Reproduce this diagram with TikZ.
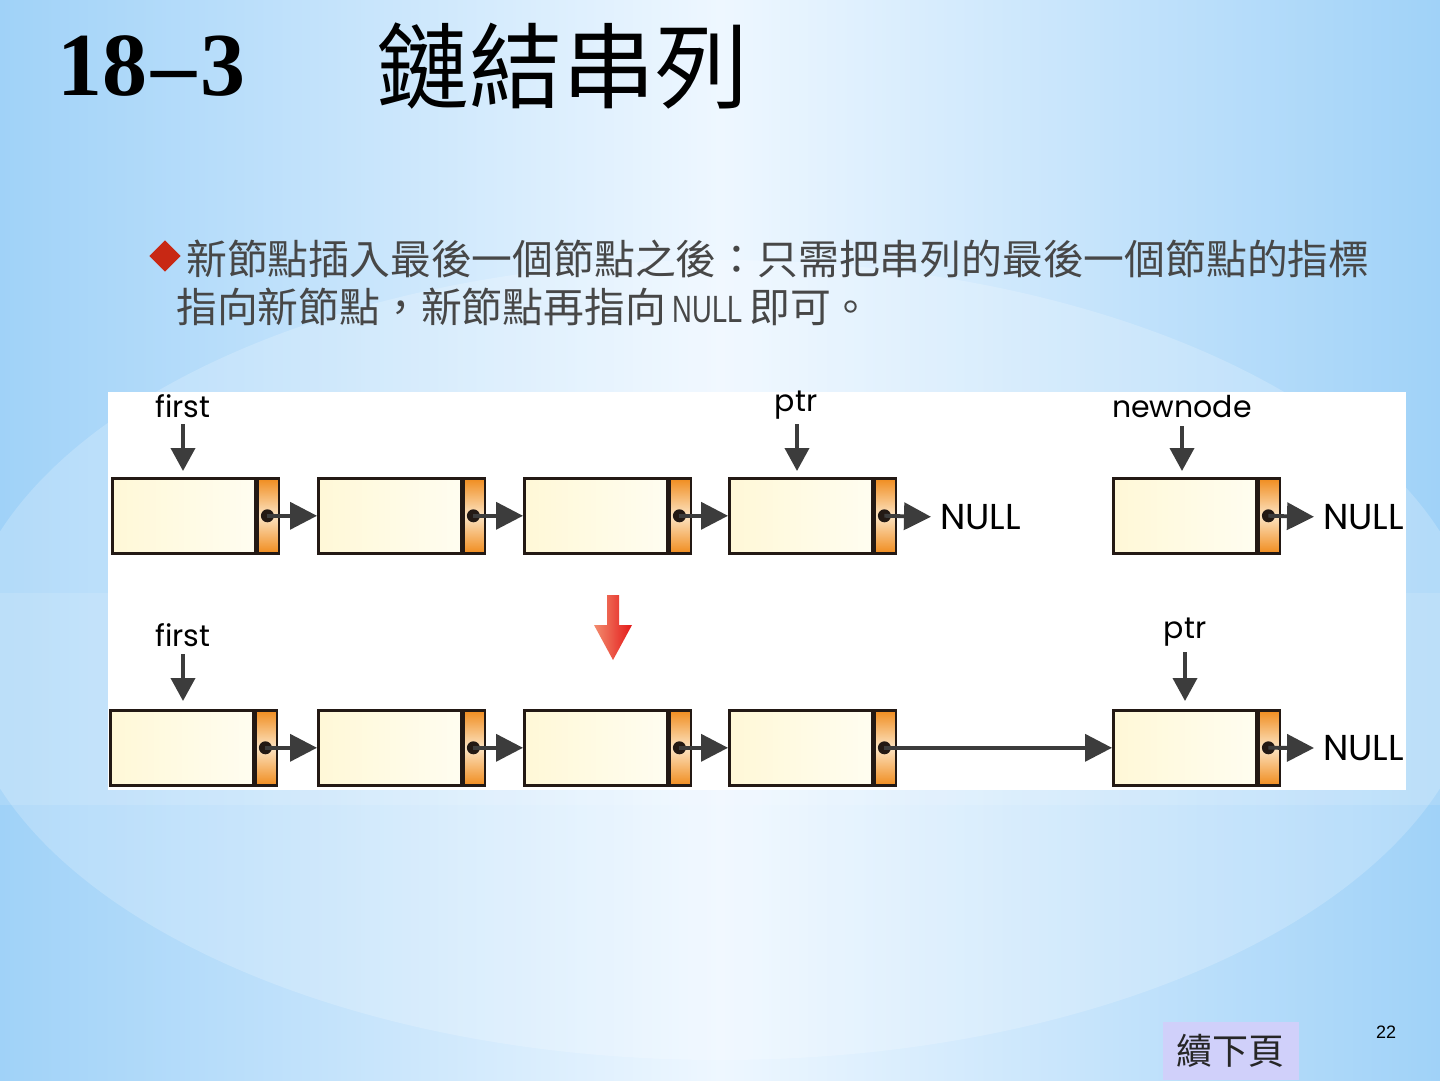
\documentclass[tikz,border=0pt]{standalone}
\usepackage{fontspec}
\setmainfont{Liberation Sans}
\newfontfamily\cjk{Noto Sans CJK TC}
\newfontfamily\titlefont{Liberation Serif}
\newfontfamily\condfont[FakeStretch=0.72]{Liberation Sans}
\newfontfamily\geofont{Poppins}
\usetikzlibrary{arrows.meta}
\definecolor{bgblue}{RGB}{160,210,248}
\definecolor{bgwhite}{RGB}{238,247,255}
\definecolor{cream}{RGB}{255,248,215}
\definecolor{creamlight}{RGB}{255,253,240}
\definecolor{orng}{RGB}{240,140,30}
\definecolor{orngl}{RGB}{252,228,195}
\definecolor{darkline}{RGB}{35,25,20}
\definecolor{arrowgray}{RGB}{60,60,60}
\definecolor{lav}{RGB}{208,208,250}
\definecolor{redarrowl}{RGB}{242,140,110}
\definecolor{redarrowr}{RGB}{228,25,25}
\definecolor{bulletred}{RGB}{200,40,20}
\begin{document}
\begin{tikzpicture}[x=1pt,y=-1pt,
  datapart/.style={draw=darkline,line width=2.6pt,minimum width=143pt,minimum height=75pt,inner sep=0pt,
    left color=cream,right color=creamlight,shading angle=90},
  ptrpart/.style={draw=darkline,line width=2.6pt,minimum width=21pt,minimum height=75pt,inner sep=0pt,
    top color=orng,bottom color=orng,middle color=orngl},
  dotnode/.style={circle,fill=darkline,minimum size=13pt,inner sep=0pt},
  link/.style={draw=arrowgray,line width=3.8pt,-{Triangle[length=27pt,width=27pt]}},
  down/.style={draw=arrowgray,line width=3.8pt,-{Triangle[length=23pt,width=24pt]}},
  lbl/.style={font=\geofont\fontsize{30}{32}\selectfont,text=black,inner sep=0pt},
  nulltxt/.style={font=\geofont\fontsize{36}{38}\selectfont,text=black,inner sep=0pt,anchor=west}
]
\useasboundingbox (0,0) rectangle (1440,1080);
% background
\shade[left color=bgblue,right color=bgwhite] (0,0) rectangle (720,1080);
\shade[left color=bgwhite,right color=bgblue] (720,0) rectangle (1440,1080);
\fill[white,opacity=0.2] (720,660) ellipse (760pt and 400pt);
\fill[white,opacity=0.12] (0,593) rectangle (1440,805);
% panel
\fill[white] (108,392) rectangle (1406,790);

% title
\node[anchor=west,inner sep=0pt,font=\titlefont\bfseries\fontsize{90}{90}\selectfont] (t1) at (57,66) {18\kern4pt–\kern4pt3};
\node[anchor=west,inner sep=0pt,font=\cjk\fontsize{93}{93}\selectfont] (t2) at (376,66) {鏈結串列};

% bullet text
\node[fill=bulletred,shape=rectangle,rotate=45,minimum size=22pt,inner sep=0pt] (bul) at (165,256) {};
\node[anchor=west,inner sep=0pt,font=\cjk\fontsize{40.8}{40}\selectfont,text=black!72] (line1) at (186,259) {新節點插入最後一個節點之後：只需把串列的最後一個節點的指標};
\node[anchor=west,inner sep=0pt,font=\cjk\fontsize{40.8}{40}\selectfont,text=black!72] (line2) at (176,307) {指向新節點，新節點再指向\,{\condfont\fontsize{38}{38}\selectfont NULL}\,即可。};

% row 1
\foreach \i/\x in {1/111,2/317,3/523,4/728,5/1112}{
  \node[datapart,anchor=north west] (a\i) at (\x,477) {};
  \node[ptrpart,anchor=west] (ap\i) at (a\i.east) {};
  \node[dotnode] (ad\i) at ([xshift=-1pt]ap\i.center) {};
}
\foreach \i/\j in {1/2,2/3,3/4}{
  \draw[link] (ad\i.center) -- (a\j.west);
}
\node[nulltxt] (n1) at (940,517) {NULL};
\node[nulltxt] (n2) at (1323,517) {NULL};
\draw[link,shorten >=9pt] (ad4.center) -- (n1.west);
\draw[link,shorten >=9pt] (ad5.center) -- (n2.west);

\node[lbl] (f1) at (183,406) {first};
\node[lbl] (p1) at (796,405) {ptr};
\node[lbl] (nn) at (1182,407) {newnode};
\coordinate (f1e) at (183,471);
\coordinate (p1e) at (797,471);
\coordinate (nne) at (1182,471);
\draw[down] (183,424) -- (f1e);
\draw[down] (797,424) -- (p1e);
\draw[down] (1182,426) -- (nne);

% red arrow
\shade[left color=redarrowl,right color=redarrowr]
  (607,595) -- (619,595) -- (619,625) -- (632,625) -- (613,660) -- (594,625) -- (607,625) -- cycle;

% row 2
\foreach \i/\x in {1/109,2/317,3/523,4/728,5/1112}{
  \node[datapart,anchor=north west] (b\i) at (\x,709) {};
  \node[ptrpart,anchor=west] (bp\i) at (b\i.east) {};
  \node[dotnode] (bd\i) at ([xshift=-1pt]bp\i.center) {};
}
\foreach \i/\j in {1/2,2/3,3/4,4/5}{
  \draw[link] (bd\i.center) -- (b\j.west);
}
\node[nulltxt] (n3) at (1323,748) {NULL};
\draw[link,shorten >=9pt] (bd5.center) -- (n3.west);

\node[lbl] (f2) at (183,635) {first};
\node[lbl] (p2) at (1185,632) {ptr};
\coordinate (f2e) at (183,701);
\coordinate (p2e) at (1185,701);
\draw[down] (183,654) -- (f2e);
\draw[down] (1185,652) -- (p2e);

% footer
\fill[lav] (1163,1022) rectangle (1299,1080);
\node[inner sep=0pt,font=\cjk\fontsize{36}{36}\selectfont,text=black!85] (next) at (1230,1051) {續下頁};
\node[inner sep=0pt,font=\fontsize{18}{18}\selectfont] (pg) at (1386,1032) {22};
\end{tikzpicture}
\end{document}
